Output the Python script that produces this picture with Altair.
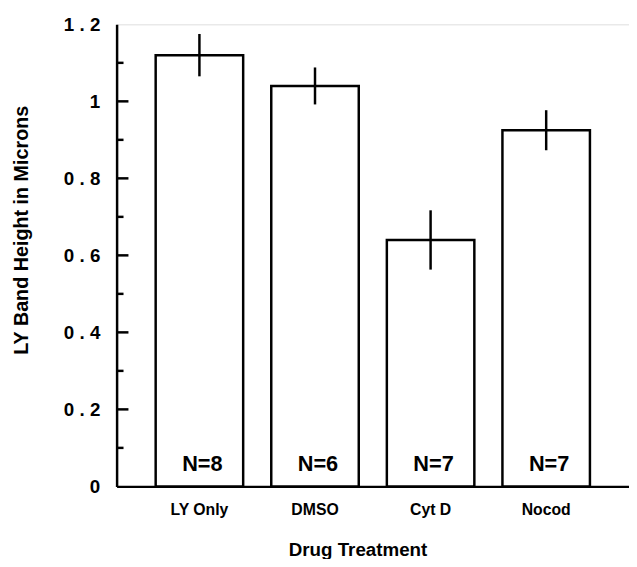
import altair as alt
import pandas as pd

treatments = ["LY Only", "DMSO", "Cyt D", "Nocod"]
means = [1.12, 1.04, 0.64, 0.925]
errors = [0.055, 0.048, 0.077, 0.052]
n_labels = ["N=8", "N=6", "N=7", "N=7"]
major_ticks = [0.2, 0.4, 0.6, 0.8, 1.0]
minor_ticks = [0.1, 0.3, 0.5, 0.7, 0.9, 1.1]

df = pd.DataFrame({
    "treatment": treatments,
    "mean": means,
    "lo": [m - e for m, e in zip(means, errors)],
    "hi": [m + e for m, e in zip(means, errors)],
    "n": n_labels,
})
major_df = pd.DataFrame({"v": major_ticks})
minor_df = pd.DataFrame({"v": minor_ticks})

FONT = "Liberation Sans"

x_enc = alt.X(
    "treatment:N",
    sort=treatments,
    scale=alt.Scale(paddingInner=0.243, paddingOuter=0.338),
    axis=alt.Axis(
        title="Drug Treatment",
        titleFont=FONT, titleFontSize=19, titleFontWeight="bold",
        titlePadding=24, titleX=244,
        labelFont=FONT, labelFontSize=16, labelFontWeight="bold",
        labelAngle=0, labelPadding=15,
        labelColor="black", titleColor="black",
        ticks=False, domainColor="black", domainWidth=2.5,
    ),
)
y_scale = alt.Scale(domain=[0, 1.2], nice=False, zero=True)

bars = alt.Chart(df).mark_bar(
    fill="white", stroke="black", strokeWidth=2.5
).encode(
    x=x_enc,
    y=alt.Y(
        "mean:Q",
        scale=y_scale,
        axis=alt.Axis(
            title="LY Band Height in Microns",
            titleFont=FONT, titleFontSize=20, titleFontWeight="bold",
            titleColor="black", titleX=-86, titleY=208,
            values=[0, 0.2, 0.4, 0.6, 0.8, 1.0, 1.2],
            labelExpr="datum.value == 0 ? '0' : (datum.value == 1 ? '1' : replace(format(datum.value, '.1f'), '.', ' . '))",
            labelFont=FONT, labelFontSize=19, labelFontWeight="bold",
            labelColor="black",
            labelPadding=17, ticks=False, grid=False,
            domainColor="black", domainWidth=2.5,
        ),
    ),
)

err = alt.Chart(df).mark_rule(color="black", strokeWidth=2.5).encode(
    x=alt.X("treatment:N", sort=treatments),
    y=alt.Y("lo:Q", scale=y_scale),
    y2="hi:Q",
)

major = alt.Chart(major_df).mark_rule(color="black", strokeWidth=2.5).encode(
    x=alt.value(0), x2=alt.value(12),
    y=alt.Y("v:Q", scale=y_scale),
)
minor = alt.Chart(minor_df).mark_rule(color="black", strokeWidth=2.5).encode(
    x=alt.value(0), x2=alt.value(7),
    y=alt.Y("v:Q", scale=y_scale),
)

labels = alt.Chart(df).mark_text(
    font=FONT, fontSize=22, fontWeight="bold", color="black",
    baseline="bottom", dy=-11, dx=3
).encode(
    x=alt.X("treatment:N", sort=treatments),
    y=alt.value(468),
    text="n:N",
)

chart = alt.layer(bars, err, major, minor, labels).properties(
    width=519,
    height=468,
    autosize=alt.AutoSizeParams(type="none"),
    padding={"left": 110, "top": 13, "right": 0, "bottom": 70},
).configure_view(stroke=None).configure(background="white")

chart.save("out.html", embed_options={"renderer": "svg", "actions": False})
